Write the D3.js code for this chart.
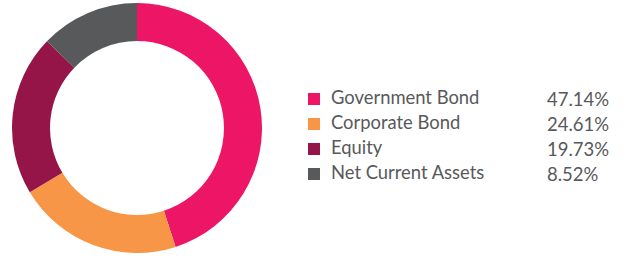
<!DOCTYPE html>
<html>
<head>
<meta charset="utf-8">
<script src="https://cdn.jsdelivr.net/npm/d3@7"></script>
<style>
  html, body { margin: 0; padding: 0; background: #fff; }
  svg { display: block; }
</style>
</head>
<body>
<svg id="chart" width="626" height="258"></svg>
<script>
// Categories and legend values (as printed)
const categories = ["Government Bond", "Corporate Bond", "Equity", "Net Current Assets"];
const legendValues = ["47.14%", "24.61%", "19.73%", "8.52%"];
// Slice shares as drawn in the picture (estimated from the arc angles)
const sliceShares = [45.0, 21.4, 20.8, 12.8];
const colors = ["#ED1566", "#F79646", "#951548", "#58595B"];

const svg = d3.select("#chart");
const cx = 137, cy = 128, rOuter = 125, rInner = 87;

const pie = d3.pie().sort(null).value(d => d)(sliceShares);
const arc = d3.arc().innerRadius(rInner).outerRadius(rOuter);

svg.append("g")
  .attr("transform", `translate(${cx},${cy})`)
  .selectAll("path")
  .data(pie)
  .join("path")
  .attr("d", arc)
  .attr("fill", (d, i) => colors[i]);

const y = d3.scalePoint().domain(d3.range(categories.length)).range([104, 179]);

const legend = svg.append("g");
const rows = legend.selectAll("g").data(categories).join("g");

rows.append("rect")
  .attr("x", 308)
  .attr("y", (d, i) => y(i) - 11)
  .attr("width", 12)
  .attr("height", 12)
  .attr("fill", (d, i) => colors[i]);

rows.append("text")
  .attr("x", 331)
  .attr("y", (d, i) => y(i))
  .attr("font-family", "Lato, sans-serif")
  .attr("font-size", 18.4)
  .attr("fill", "#58595B")
  .text(d => d);

rows.append("text")
  .attr("x", 547)
  .attr("y", (d, i) => y(i) + 2)
  .attr("font-family", "Lato, sans-serif")
  .attr("font-size", 18.5)
  .attr("fill", "#58595B")
  .text((d, i) => legendValues[i]);
</script>
</body>
</html>
